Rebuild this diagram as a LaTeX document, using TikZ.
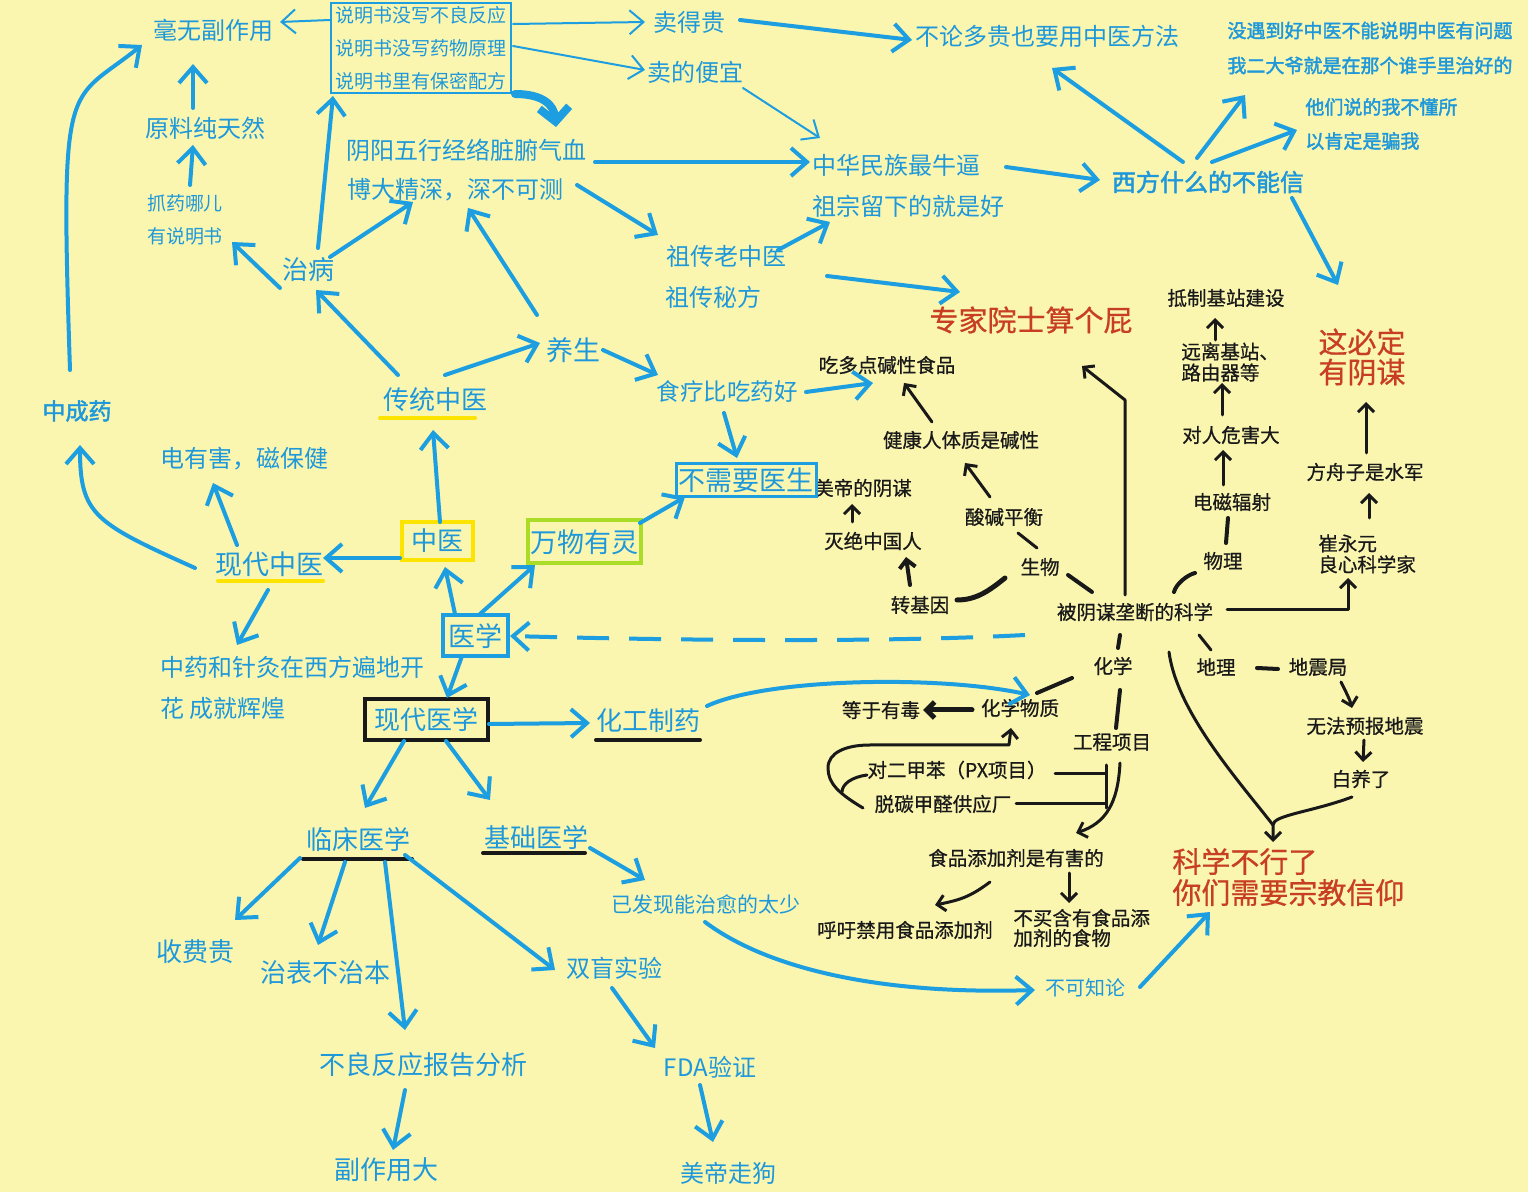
\documentclass[tikz,border=0pt]{standalone}
\usepackage{fontspec}
\setmainfont[AutoFakeBold=2]{Noto Sans CJK SC}
\newfontfamily\kfont[FakeBold=0.7]{Noto Sans CJK SC}
\usetikzlibrary{arrows.meta,fit,calc}
\definecolor{bgc}{RGB}{250,246,176}
\definecolor{lb}{RGB}{28,158,224}
\definecolor{tb}{RGB}{30,152,218}
\definecolor{tk}{RGB}{25,25,25}
\definecolor{tr}{RGB}{200,62,35}
\definecolor{yel}{RGB}{252,228,0}
\definecolor{grn}{RGB}{170,220,40}
\newcommand{\myfs}[2]{\fontsize{#1}{#2}\selectfont}
\begin{document}
\begin{tikzpicture}[x=0.5pt,y=-0.5pt,
  bt/.style={text=tb,inner sep=0pt},
  kt/.style={text=tk,inner sep=0pt,font=\kfont\myfs{9.75}{10.5}},
  rt/.style={text=tr,inner sep=0pt},
  ba/.style={draw=lb,line width=2pt,line cap=round,line join=round,-{Straight Barb[length=8pt,width=14pt]}},
  bthin/.style={draw=lb,line width=1pt,line cap=round,line join=round,-{Straight Barb[length=7pt,width=12pt]}},
  ka/.style={draw=tk,line width=1.5pt,line cap=round,line join=round,-{Straight Barb[length=4pt,width=8pt]}},
  kl/.style={draw=tk,line width=1.5pt,line cap=round,line join=round},
  uline/.style={line width=2pt,line cap=round}]
\fill[bgc] (0,0) rectangle (1528,1192);
\useasboundingbox (0,0) rectangle (1528,1192);

% ---------- top left ----------
\node[bt,font=\myfs{12}{14}] (wu) at (213,30) {毫无副作用};
\node[bt,font=\myfs{9.5}{11}] (l1) at (421,15) {说明书没写不良反应};
\node[bt,font=\myfs{9.5}{11}] (l2) at (421,48) {说明书没写药物原理};
\node[bt,font=\myfs{9.5}{11}] (l3) at (421,81) {说明书里有保密配方};
\node[draw=lb,line width=1.2pt,inner xsep=2pt,inner ysep=1.5pt,fit=(l1)(l2)(l3)] (box) {};
\node[bt,font=\myfs{12}{14}] (yl) at (205,128) {原料纯天然};
\node[bt,font=\myfs{9.5}{16.5},align=left] (zhua) at (185,219.5) {抓药哪儿\\有说明书};
\node[bt,font=\myfs{13}{14}] (zb) at (308,270) {治病};
\node[bt,font=\myfs{12}{14}] (yy) at (466,150) {阴阳五行经络脏腑气血};
\node[bt,font=\myfs{12}{14}] (bd) at (455,190) {博大精深，深不可测};
\node[bt,font=\myfs{12}{14}] (mdg) at (689,22) {卖得贵};
\node[bt,font=\myfs{12}{14}] (mdp) at (695,72) {卖的便宜};
\node[bt,font=\myfs{12}{14}] (blu) at (1047,36) {不论多贵也要用中医方法};
\node[bt,font=\myfs{9.5}{17.5}\bfseries,align=left] (myd) at (1370,48) {没遇到好中医不能说明中医有问题\\我二大爷就是在那个谁手里治好的};
\node[bt,font=\myfs{9.5}{17}\bfseries,align=left,anchor=west] (tm) at (1305,124) {他们说的我不懂所\\以肯定是骗我};
\node[bt,font=\myfs{12}{14}] (zh) at (896,165) {中华民族最牛逼};
\node[bt,font=\myfs{12}{14}\bfseries] (xf) at (1208,182) {西方什么的不能信};
\node[bt,font=\myfs{12}{14}] (zz) at (908,206) {祖宗留下的就是好};
\node[bt,font=\myfs{12}{14}] (zc) at (726,256) {祖传老中医};
\node[bt,font=\myfs{12}{14}] (zm) at (713,297) {祖传秘方};
\node[rt,font=\kfont\myfs{14.5}{16}] (zj) at (1031,320) {专家院士算个屁};

% ---------- right black part ----------
\node[kt] (dz) at (1226,298) {抵制基站建设};
\node[kt,align=left,anchor=west] (yl2) at (1181,362) {远离基站、\\路由器等};
\node[rt,font=\kfont\myfs{14.5}{15},align=center] (yin) at (1362,357) {这必定\\有阴谋};
\node[kt] (cd) at (887,365) {吃多点碱性食品};
\node[kt] (jk) at (961,440) {健康人体质是碱性};
\node[kt] (dr) at (1231,435) {对人危害大};
\node[kt] (fz) at (1365,472) {方舟子是水军};
\node[kt] (md) at (863,488) {美帝的阴谋};
\node[kt] (sj) at (1004,517) {酸碱平衡};
\node[kt] (dc) at (1232,502) {电磁辐射};
\node[kt] (mj) at (873,541) {灭绝中国人};
\node[kt] (sw) at (1040,567) {生物};
\node[kt] (wl) at (1223,561) {物理};
\node[kt,align=left,anchor=west] (cy) at (1318,554) {崔永元\\良心科学家};
\node[kt] (zjy) at (920,605) {转基因};
\node[kt] (bym) at (1135,612) {被阴谋垄断的科学};
\node[kt] (hx) at (1113,666) {化学};
\node[kt] (dl) at (1216,667) {地理};
\node[kt] (dzj) at (1318,667) {地震局};
\node[kt] (dy) at (881,710) {等于有毒};
\node[kt] (hxwz) at (1020,708) {化学物质};
\node[kt] (gc) at (1112,742) {工程项目};
\node[kt] (wf) at (1365,726) {无法预报地震};
\node[kt] (px) at (957,770) {对二甲苯（PX项目）};
\node[kt] (by) at (1361,779) {白养了};
\node[kt] (tt) at (943,804) {脱碳甲醛供应厂};
\node[kt] (sp) at (1016,858) {食品添加剂是有害的};
\node[rt,font=\kfont\myfs{14.5}{15.5},align=left,anchor=west] (kx) at (1172,877) {科学不行了\\你们需要宗教信仰};
\node[kt] (hy) at (905,930) {呼吁禁用食品添加剂};
\node[kt,align=left,anchor=west,font=\kfont\myfs{9.75}{10}] (bm) at (1013,928) {不买含有食品添\\加剂的食物};
\node[bt,font=\myfs{10}{12}] (bkz) at (1085,988) {不可知论};

% ---------- middle / left ----------
\node[bt,font=\myfs{11.5}{13}\bfseries] (zcy) at (77,411) {中成药};
\node[bt,font=\myfs{13}{14}] (ctzy) at (435,400) {传统中医};
\node[bt,font=\myfs{13.5}{14}] (ys) at (573,350) {养生};
\node[bt,font=\myfs{11.75}{13}] (sl) at (727,392) {食疗比吃药好};
\node[bt,draw=lb,line width=1.5pt,minimum width=70pt,minimum height=16.5pt,font=\myfs{13.5}{14}] (bxy) at (746,480) {不需要医生};
\node[bt,font=\myfs{12}{14}] (dyh) at (244,459) {电有害，磁保健};
\node[bt,draw=yel,line width=2pt,minimum width=35.5pt,minimum height=19pt,font=\myfs{13}{14}] (zy) at (437,541) {中医};
\node[bt,draw=grn,line width=2pt,minimum width=56.5pt,minimum height=21.5pt,font=\myfs{13.5}{14}] (wwyl) at (584,542) {万物有灵};
\node[bt,font=\myfs{13.5}{14}] (xdzy) at (269,564) {现代中医};
\node[bt,draw=lb,line width=2pt,minimum width=32.5pt,minimum height=20.5pt,font=\myfs{13.5}{14}] (yx) at (475,636) {医学};
\node[bt,font=\myfs{12}{20.5},align=left,anchor=west] (zyzj) at (160,688) {中药和针灸在西方遍地开\\花 成就辉煌};
\node[bt,draw=tk,line width=2pt,minimum width=61.5pt,minimum height=20.5pt,font=\myfs{13}{14}] (xdyx) at (426,720) {现代医学};
\node[bt,font=\myfs{13}{14}] (hgzy) at (648,721) {化工制药};
\node[bt,font=\myfs{13}{14}] (lc) at (358,840) {临床医学};
\node[bt,font=\myfs{13}{14}] (jc) at (536,837) {基础医学};
\node[bt,font=\myfs{10.5}{12}] (yfx) at (706,904) {已发现能治愈的太少};
\node[bt,font=\myfs{13}{14}] (sfg) at (195,952) {收费贵};
\node[bt,font=\myfs{13}{14}] (zb2) at (325,973) {治表不治本};
\node[bt,font=\myfs{12}{14}] (sm) at (614,968) {双盲实验};
\node[bt,font=\myfs{13}{14}] (bl) at (423,1065) {不良反应报告分析};
\node[bt,font=\myfs{12}{14}] (fda) at (710,1067) {FDA验证};
\node[bt,font=\myfs{13}{14}] (fzy) at (386,1170) {副作用大};
\node[bt,font=\myfs{12}{14}] (mdzg) at (728,1173) {美帝走狗};

% underlines
\draw[uline,yel] ([shift={(-55,18)}]ctzy.center) -- ++(95,0);
\draw[uline,yel] ([shift={(-51,17)}]xdzy.center) -- ++(105,0);
\draw[uline,tk] ([shift={(-52,19)}]hgzy.center) -- ++(104,0);
\draw[uline,tk] ([shift={(-55,19)}]lc.center) -- ++(109,0);
\draw[uline,tk] ([shift={(-53,16)}]jc.center) -- ++(102,0);

% ---------- blue connectors ----------
\draw[bthin] ([shift={(-91,-28)}]box.center) -- ([shift={(67,-8)}]wu.center);
\draw[bthin] ([shift={(92,-24)}]box.center) -- ([shift={(-44,0)}]mdg.center);
\draw[bthin] ([shift={(92,-2)}]box.center) -- ([shift={(-50,-2)}]mdp.center);
\draw[draw=lb,line width=4pt,line cap=round,-{Straight Barb[length=7pt,width=15pt]}] ([shift={(94,46)}]box.center) .. controls +(28,0) and +(-2,-22) .. ([shift={(90,-23)}]yy.center);
\draw[ba] ([shift={(51,-2)}]mdg.center) -- ([shift={(-135,4)}]blu.center);
\draw[bthin] ([shift={(48,16)}]mdp.center) -- ([shift={(-76,-27)}]zh.center);
\draw[ba] ([shift={(129,12)}]yy.center) -- ([shift={(-86,-3)}]zh.center);
\draw[ba] ([shift={(122,-5)}]bd.center) -- ([shift={(-68,-21)}]zc.center);
\draw[ba] ([shift={(52,-6)}]zc.center) -- ([shift={(-78,16)}]zz.center);
\draw[ba] ([shift={(114,-21)}]zm.center) -- ([shift={(-71,-28)}]zj.center);
\draw[ba] ([shift={(110,2)}]zh.center) -- ([shift={(-108,-2)}]xf.center);
\draw[ba] ([shift={(-25,-20)}]xf.center) -- ([shift={(5,32)}]blu.center);
\draw[ba] ([shift={(-11,-24)}]xf.center) -- ([shift={(-125,47)}]myd.center);
\draw[ba] ([shift={(4,-20)}]xf.center) -- ([shift={(-8,6)}]tm.west);
\draw[ba] ([shift={(84,16)}]xf.center) -- ([shift={(-24,-72)}]yin.center);
\draw[ba] ([shift={(-7,-41)}]zcy.center) .. controls +(-10,-300) and +(-75,60) .. ([shift={(-71,15)}]wu.center);
\draw[ba] ([shift={(-12,-20)}]yl.center) -- ([shift={(-20,34)}]wu.center);
\draw[ba] ([shift={(5,-34.5)}]zhua.center) -- ([shift={(-12,17)}]yl.center);
\draw[ba] ([shift={(-28,18)}]zb.center) -- ([shift={(47,22.5)}]zhua.center);
\draw[ba] ([shift={(10,-22)}]zb.center) -- ([shift={(-88,48)}]box.center);
\draw[ba] ([shift={(22,-13)}]zb.center) -- ([shift={(-42,12)}]bd.center);
\draw[ba] ([shift={(-36,-35)}]ys.center) -- ([shift={(13,18)}]bd.center);
\draw[ba] ([shift={(-37,-25)}]ctzy.center) -- ([shift={(8,20)}]zb.center);
\draw[ba] ([shift={(10,-25)}]ctzy.center) -- ([shift={(-33,-7)}]ys.center);
\draw[ba] ([shift={(30,0)}]ys.center) -- ([shift={(-69,-17)}]sl.center);
\draw[ba] ([shift={(79,0)}]sl.center) -- ([shift={(-14,18)}]cd.center);
\draw[ba] ([shift={(-3,21)}]sl.center) -- ([shift={(-9,-22)}]bxy.center);
\draw[ba] ([shift={(3,-19)}]zy.center) -- ([shift={(-2,30)}]ctzy.center);
\draw[ba] ([shift={(-37,17)}]zy.center) -- ([shift={(54,-6)}]xdzy.center);
\draw[ba] ([shift={(-32,-19)}]xdzy.center) -- ([shift={(-31,24)}]dyh.center);
\draw[ba] ([shift={(-74,4)}]xdzy.center) .. controls +(-100,-45) and +(0,70) .. ([shift={(3,34)}]zcy.center);
\draw[ba] ([shift={(-1,26)}]xdzy.center) -- ([shift={(77,-43)}]zyzj.west);
\draw[ba] ([shift={(-20,-22)}]yx.center) -- ([shift={(8,26)}]zy.center);
\draw[ba] ([shift={(5,-22)}]yx.center) -- ([shift={(-49,23)}]wwyl.center);
\draw[ba] ([shift={(56,-19)}]wwyl.center) -- ([shift={(-61,17)}]bxy.center);
\draw[draw=lb,line width=2pt,dash pattern=on 16pt off 10pt,-{Straight Barb[length=8pt,width=14pt]}] ([shift={(-110,23)}]bym.center) .. controls +(-150,8) and +(150,4) .. ([shift={(35,0)}]yx.center);
\draw[ba] ([shift={(-13,20)}]yx.center) -- ([shift={(21,-22)}]xdyx.center);
\draw[ba] ([shift={(63,4)}]xdyx.center) -- ([shift={(-58,2)}]hgzy.center);
\draw[ba] ([shift={(59,-15)}]hgzy.center) .. controls +(60,-28) and +(-90,-20) .. ([shift={(10,-13)}]hxwz.center);
\draw[ba] ([shift={(-22,21)}]xdyx.center) -- ([shift={(7,-32)}]lc.center);
\draw[ba] ([shift={(20,21)}]xdyx.center) -- ([shift={(-46,-37)}]jc.center);
\draw[ba] ([shift={(-58,18)}]lc.center) -- ([shift={(40,-32)}]sfg.center);
\draw[ba] ([shift={(-13,22)}]lc.center) -- ([shift={(-7,-28)}]zb2.center);
\draw[ba] ([shift={(27,22)}]lc.center) -- ([shift={(-18,-35)}]bl.center);
\draw[ba] ([shift={(47,15)}]lc.center) -- ([shift={(-59,2)}]sm.center);
\draw[ba] ([shift={(54,11)}]jc.center) -- ([shift={(-61,-24)}]yfx.center);
\draw[ba] ([shift={(-1,18)}]yfx.center) .. controls +(60,45) and +(-160,5) .. ([shift={(-50,2)}]bkz.center);
\draw[ba] ([shift={(55,-1)}]bkz.center) -- ([shift={(38,35)}]kx.west);
\draw[ba] ([shift={(-2,20)}]sm.center) -- ([shift={(-55,-19)}]fda.center);
\draw[ba] ([shift={(-18,25)}]bl.center) -- ([shift={(7,-20)}]fzy.center);
\draw[ba] ([shift={(-10,18)}]fda.center) -- ([shift={(-15,-31)}]mdzg.center);

% ---------- black connectors ----------
\draw[ka] ([shift={(-10,-17)}]bym.center) -- ++(0,-195) -- ([shift={(51,46)}]zj.center);
\draw[kl,line width=2pt] ([shift={(28,8)}]sw.center) -- ([shift={(-43,-20)}]bym.center);
\draw[kl,line width=2.5pt] ([shift={(-35,11)}]sw.center) .. controls +(-15,12) and +(20,0) .. ([shift={(37,-5)}]zjy.center);
\draw[ka,line width=2pt] ([shift={(-10,-20)}]zjy.center) -- ([shift={(33,16)}]mj.center);
\draw[ka] ([shift={(-21,-19)}]mj.center) -- ([shift={(-11,16)}]md.center);
\draw[kl] ([shift={(-3,-19)}]sw.center) -- ([shift={(14,16)}]sj.center);
\draw[ka] ([shift={(-14,-20)}]sj.center) -- ([shift={(4,23)}]jk.center);
\draw[ka] ([shift={(-29,-18)}]jk.center) -- ([shift={(17,18)}]cd.center);
\draw[kl,line width=2pt] ([shift={(39,-20)}]bym.center) .. controls +(2,-8) and +(-8,2) .. ([shift={(-28,12)}]wl.center);
\draw[kl,line width=2pt] ([shift={(3,-18)}]wl.center) -- ([shift={(-4,16)}]dc.center);
\draw[ka] ([shift={(-9,-17)}]dc.center) -- ([shift={(-8,15)}]dr.center);
\draw[ka] ([shift={(-9,-20)}]dr.center) -- ([shift={(41,21)}]yl2.west);
\draw[ka] ([shift={(34,-22)}]yl2.west) -- ([shift={(-11,20)}]dz.center);
\draw[ka] ([shift={(92,-2)}]bym.center) -| ([shift={(30,24)}]cy.west);
\draw[ka] ([shift={(51,-36)}]cy.west) -- ([shift={(4,21)}]fz.center);
\draw[ka] ([shift={(1,-19)}]fz.center) -- ([shift={(4,45)}]yin.center);
\draw[kl,line width=2pt] ([shift={(-15,23)}]bym.center) -- ([shift={(5,-18)}]hx.center);
\draw[kl] ([shift={(64,23)}]bym.center) -- ([shift={(-5,-17)}]dl.center);
\draw[kl,line width=2pt] ([shift={(-41,12)}]hx.center) -- ([shift={(17,-15)}]hxwz.center);
\draw[ka,line width=2.5pt] ([shift={(-48,2)}]hxwz.center) -- ([shift={(42,0)}]dy.center);
\draw[kl,line width=2pt] ([shift={(7,24)}]hx.center) -- ([shift={(4,-14)}]gc.center);
\draw[kl,line width=2pt] ([shift={(41,1)}]dl.center) -- ([shift={(-40,2)}]dzj.center);
\draw[ka] ([shift={(23,15)}]dzj.center) .. controls +(5,10) and +(-2,-8) .. ([shift={(-13,-18)}]wf.center);
\draw[ka] ([shift={(-1,14)}]wf.center) -- ([shift={(2,-17)}]by.center);
\draw[ka] ([shift={(-9,18)}]by.center) .. controls +(-40,15) and +(0,-10) .. ([shift={(101,-52)}]kx.west) -- ([shift={(101,-35)}]kx.west);
\draw[kl] ([shift={(34,40)}]bym.center) .. controls +(8,60) and +(-35,-45) .. ([shift={(101,-52)}]kx.west);
\draw[ka] ([shift={(8,21)}]gc.center) .. controls +(-2,40) and +(30,-10) .. ([shift={(60,-25)}]sp.center);
\draw[kl] ([shift={(98,4)}]px.center) -- ++(51,0);
\draw[kl] ([shift={(73,0)}]tt.center) -- ++(90,0);
\draw[kl] ([shift={(-6,23)}]gc.center) -- ++(0,43);
\draw[ka] ([shift={(-80,4)}]tt.center) .. controls +(-25,-15) and +(0,15) .. ++(-35,-40) .. controls +(0,-15) and +(-25,0) .. ++(42,-23) -- ++(139,0) -- ([shift={(-9,20)}]hxwz.center);
\draw[kl] ([shift={(-90,5)}]px.center) .. controls +(-15,2) and +(0,-8) .. ++(-25,17);
\draw[ka] ([shift={(-26,24)}]sp.center) .. controls +(-20,15) and +(25,-5) .. ([shift={(30,-25)}]hy.center);
\draw[ka] ([shift={(53,15)}]sp.center) -- ([shift={(56,-25)}]bm.west);
\end{tikzpicture}
\end{document}
